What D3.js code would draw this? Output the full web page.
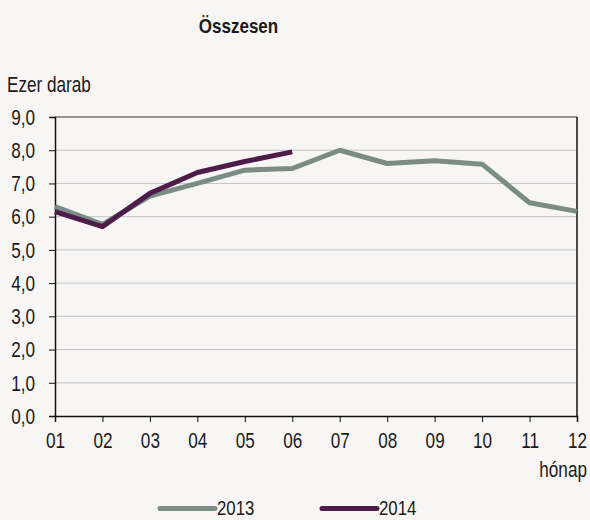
<!DOCTYPE html>
<html>
<head>
<meta charset="utf-8">
<script src="https://cdn.jsdelivr.net/npm/d3@7"></script>
<style>
  body { margin: 0; background: #f7f6f4; }
  text { font-family: "Liberation Sans", Arial, sans-serif; fill: #1a1a1a; }
</style>
</head>
<body>
<div id="chart"></div>
<script>
// Data
var months = ["01", "02", "03", "04", "05", "06", "07", "08", "09", "10", "11", "12"];
var values2013 = [6.3, 5.77, 6.62, 7.0, 7.4, 7.45, 8.0, 7.6, 7.68, 7.58, 6.42, 6.16];
var values2014 = [6.15, 5.7, 6.7, 7.33, 7.66, 7.95];
var yTicks = [0, 1, 2, 3, 4, 5, 6, 7, 8, 9];
var seriesNames = ["2013", "2014"];
var seriesColors = ["#7a8c84", "#4e1c4b"];

var W = 590, H = 520;
var plotL = 55, plotR = 577, plotT = 117, plotB = 416;
var narrow = 0.78; // squeeze text like a condensed face
var fontSize = '22px';

var svg = d3.select('#chart').append('svg')
    .attr('width', W)
    .attr('height', H)
    .style('background', '#f7f6f4');

// scales
var x = d3.scalePoint().domain(months).range([plotL, plotR]);
var y = d3.scaleLinear().domain([0, 9]).range([plotB, plotT]);

// gridlines
svg.append('g').selectAll('line')
    .data(yTicks.filter(function (d) { return d > 0 && d < 9; }))
    .enter().append('line')
    .attr('x1', plotL).attr('x2', plotR)
    .attr('y1', function (d) { return y(d); })
    .attr('y2', function (d) { return y(d); })
    .attr('stroke', '#c4c4c6')
    .attr('stroke-width', 1);

// frame top and right
svg.append('line').attr('x1', plotL).attr('x2', plotR).attr('y1', plotT).attr('y2', plotT)
    .attr('stroke', '#333').attr('stroke-width', 1);
svg.append('line').attr('x1', plotR).attr('x2', plotR).attr('y1', plotT).attr('y2', plotB)
    .attr('stroke', '#111').attr('stroke-width', 1.5);

// axes
var fmt = function (d) { return d3.format('.1f')(d).replace('.', ','); };
var yAxis = svg.append('g')
    .attr('transform', 'translate(' + plotL + ',0)')
    .call(d3.axisLeft(y).tickValues(yTicks).tickFormat(fmt).tickSize(6));
var xAxis = svg.append('g')
    .attr('transform', 'translate(0,' + plotB + ')')
    .call(d3.axisBottom(x).tickSize(6));

[yAxis, xAxis].forEach(function (a) {
    a.select('.domain').attr('stroke', '#111').attr('stroke-width', 1.5);
    a.selectAll('.tick line').attr('stroke', '#111');
    a.selectAll('text')
        .style('font-size', fontSize)
        .style('font-family', '"Liberation Sans", Arial, sans-serif')
        .attr('fill', '#1a1a1a')
        .attr('transform', 'scale(' + narrow + ',1)');
});
yAxis.selectAll('text').attr('x', -20 / narrow).attr('dy', '0.33em');
xAxis.selectAll('text').attr('y', 32).attr('dy', 0);

// lines
var line = d3.line()
    .x(function (d, i) { return x(months[i]); })
    .y(function (d) { return y(d); });

[values2013, values2014].forEach(function (vals, i) {
    svg.append('path')
        .datum(vals)
        .attr('d', line)
        .attr('fill', 'none')
        .attr('stroke', seriesColors[i])
        .attr('stroke-width', 5)
        .attr('stroke-linejoin', 'round');
});

// text helper: positioned group, squeezed horizontally
function label(px, py, str, anchor, weight, size, sx) {
    svg.append('g')
        .attr('transform', 'translate(' + px + ',' + py + ') scale(' + (sx || narrow) + ',1)')
        .append('text')
        .attr('text-anchor', anchor || 'start')
        .style('font-size', size || fontSize)
        .style('font-weight', weight || 'normal')
        .text(str);
}

label(238.5, 33, 'Összesen', 'middle', 'bold', '20px', 0.85);
label(7, 92, 'Ezer darab');
label(587, 477, 'hónap', 'end');

// legend
var legendX = [160, 322];
seriesNames.forEach(function (name, i) {
    svg.append('line')
        .attr('x1', legendX[i]).attr('x2', legendX[i] + 55)
        .attr('y1', 508.5).attr('y2', 508.5)
        .attr('stroke', seriesColors[i])
        .attr('stroke-width', 5)
        .attr('stroke-linecap', 'round');
    label(legendX[i] + 57, 515, name, 'start', 'normal', '21px', 0.8);
});
</script>
</body>
</html>
